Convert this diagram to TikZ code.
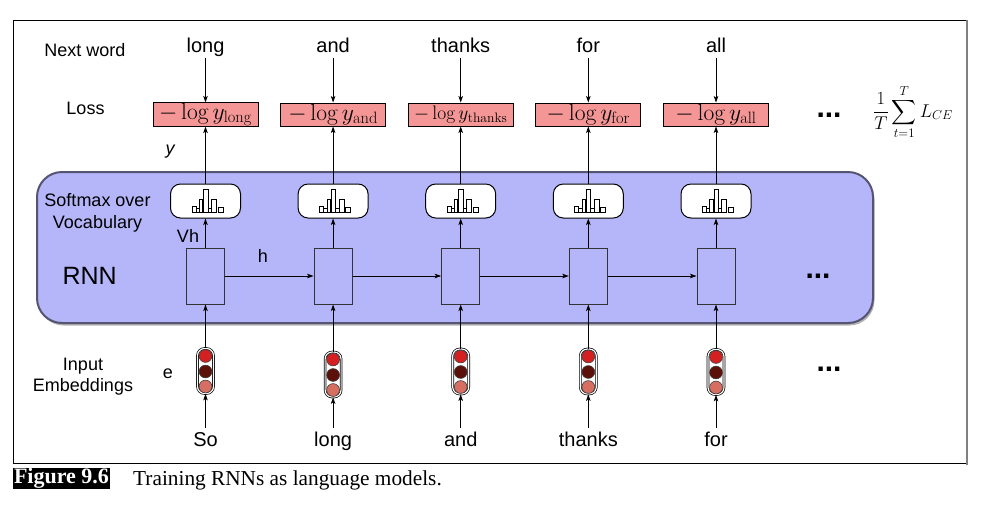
\RequirePackage{fix-cm}
\documentclass[tikz,border=0pt]{standalone}
\usepackage{amsmath}
\usepackage{fontspec}
\setsansfont{Liberation Sans}
\newfontfamily\capfont{Liberation Serif}
\usetikzlibrary{arrows.meta,shadows,calc}
\definecolor{panelfill}{RGB}{181,181,249}
\definecolor{paneldraw}{RGB}{85,85,115}
\definecolor{lossfill}{RGB}{245,150,150}
\definecolor{embA}{RGB}{212,32,32}
\definecolor{embB}{RGB}{92,16,10}
\definecolor{embC}{RGB}{214,110,98}
\begin{document}
\begin{tikzpicture}[x=1pt,y=-1pt,
  every node/.style={inner sep=0pt},
  lbl/.style={font=\sffamily\fontsize{18}{21.6}\selectfont},
  word/.style={font=\sffamily\fontsize{20}{22}\selectfont, anchor=base, text height=15pt, text depth=5pt, inner sep=1pt},
  inword/.style={font=\sffamily\fontsize{20}{22}\selectfont, anchor=base, text height=17pt, text depth=5pt, inner sep=1pt},
  loss/.style={draw=black, line width=0.9pt, fill=lossfill, minimum width=105pt, minimum height=23pt},
  soft/.style={draw=black, line width=1pt, fill=white, rounded corners=10pt, minimum width=70pt, minimum height=34pt},
  rnn/.style={draw=black!80, line width=1pt, fill=panelfill, minimum width=38pt, minimum height=56pt},
  emb/.style={draw=black, line width=0.7pt, double=white, double distance=1.2pt, fill=white, rounded corners=7pt, minimum width=16pt, minimum height=45pt},
  embdot/.style={circle, draw=black!75, line width=0.6pt, minimum size=12.8pt},
  bar/.style={draw=black, line width=0.6pt, fill=white},
  arr/.style={-{Stealth[length=6.5pt,width=4.5pt,inset=1.5pt]}, line width=0.9pt},
  dotsl/.style={font=\sffamily\bfseries\fontsize{30}{30}\selectfont}
]
\useasboundingbox (0,0) rectangle (1000,517);
% frame
\draw[line width=0.8pt] (13,20) rectangle (967,463.5);
\draw[gray, line width=2pt] (967,20) -- (967,464.5);
% panel
\node[draw=paneldraw, line width=2pt, fill=panelfill, rounded corners=25pt,
      minimum width=836pt, minimum height=151pt,
      drop shadow={shadow xshift=1.5pt, shadow yshift=-2.5pt, fill=black, opacity=0.3}] (panel) at (455,247.5) {};
% left labels
\node[lbl, anchor=base] (lnext) at (85,56) {Next word};
\node[lbl, anchor=base] (lloss) at (85.5,114.3) {Loss};
\node[lbl, anchor=base, font=\sffamily\itshape\fontsize{18}{20}\selectfont] (ly) at (170,154) {y};
\node[lbl, align=center] (lsoft) at (97.5,213) {Softmax over\\Vocabulary};
\node[lbl, anchor=base, font=\sffamily\fontsize{25}{28}\selectfont] (lrnn) at (89.7,284) {RNN};
\node[lbl, align=center] (linput) at (83,376.5) {Input\\Embeddings};
\node[lbl, anchor=base] (lvh) at (188,242) {Vh};
\node[lbl, anchor=base] (lh) at (263,262) {h};
\node[lbl, anchor=base] (le) at (168,378) {e};
% columns
\foreach \i/\x/\nw/\iw/\fs/\ey in {1/205.5/long/So/23.5/371, 2/333.1/and/long/23.5/374.5, 3/460.7/thanks/and/19.5/371.5, 4/588.3/for/thanks/23.5/371.5, 5/716/all/for/23.5/372} {
  \node[word] (n\i) at (\x,52) {\nw};
  \node[loss, font=\fontsize{\fs}{\fs}\selectfont] (l\i) at (\x,114.5) {$-\log y_{\mathrm{\nw}}$};
  \node[soft] (s\i) at (\x,201) {};
  \foreach \a/\b/\h in {-13.7/-9.7/6.7, -9.7/-6.3/4.3, -6.3/-3/13.3, -2/2.3/23.3, 2.3/5.7/4.7, 5.7/10.7/13.3, 12.3/17.3/5.7}
    \draw[bar] ($(s\i.center)+(\a,11.7)$) rectangle ($(s\i.center)+(\b,11.7-\h)$);
  \node[rnn] (r\i) at (\x,276) {};
  \node[emb] (e\i) at (\x,\ey) {};
  \node[embdot, fill=embA] at ($(e\i.center)+(0,-15)$) {};
  \node[embdot, fill=embB] at ($(e\i.center)+(0,0.5)$) {};
  \node[embdot, fill=embC] at ($(e\i.center)+(0,15.5)$) {};
  \node[inword] (w\i) at (\x,446) {\iw};
  \draw[arr] (n\i) -- (l\i);
  \draw[arr] (s\i) -- (l\i);
  \draw[arr] (r\i) -- (s\i);
  \draw[arr] (e\i) -- (r\i);
  \draw[arr] (w\i) -- (e\i);
}
\foreach \i/\j in {1/2,2/3,3/4,4/5}
  \draw[arr] (r\i) -- (r\j);
% dots
\node[dotsl] (d1) at (829,115) {...};
\node[dotsl] (d2) at (818,276.5) {...};
\node[dotsl] (d3) at (829,369) {...};
% formula
\node (formula) at (913,112) {\fontsize{18.5}{20}\selectfont$\displaystyle\frac{1}{T}\sum_{t=1}^{T}L_{CE}$};
% caption
\node[fill=black, text=white, font=\capfont\bfseries\fontsize{22}{24}\selectfont, minimum width=97pt, minimum height=20pt] (figlbl) at (61.5,478.5) {Figure 9.6};
\node[anchor=base west, font=\capfont\fontsize{21.3}{24}\selectfont] (captxt) at (133,485) {Training RNNs as language models.};
\end{tikzpicture}
\end{document}
